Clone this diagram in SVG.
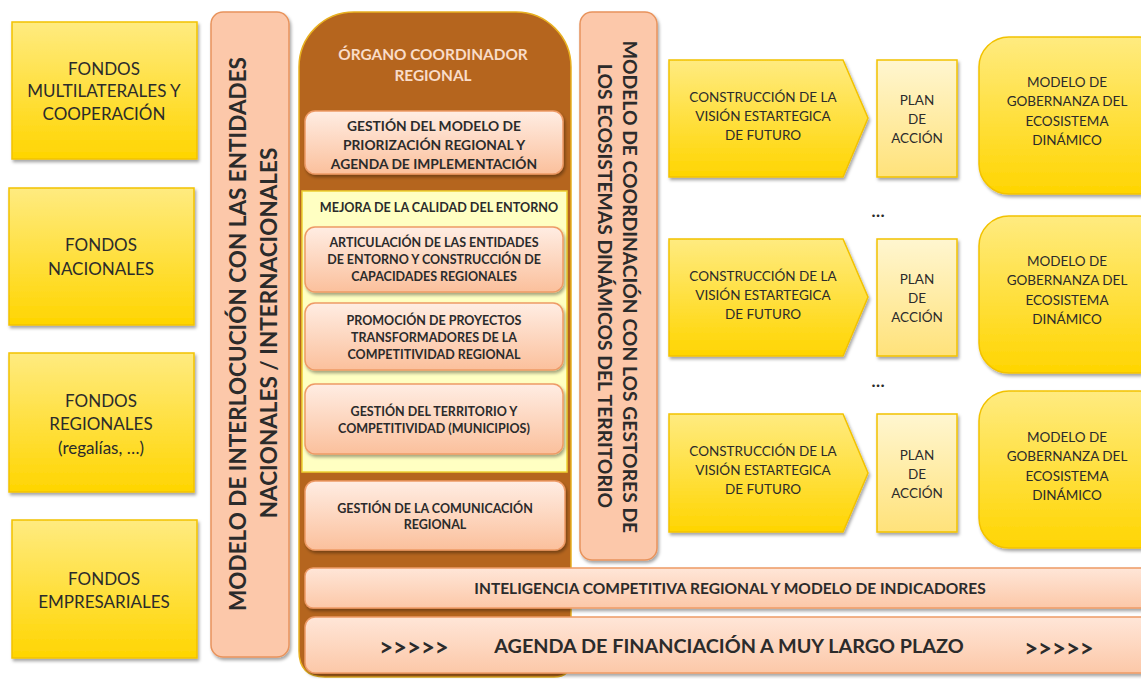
<svg xmlns="http://www.w3.org/2000/svg" width="1141" height="679" viewBox="0 0 1141 679">
<defs>
<linearGradient id="gY" x1="0" y1="0" x2="0" y2="1"><stop offset="0" stop-color="#FFEB80"/><stop offset="1" stop-color="#FFD500"/></linearGradient>
<linearGradient id="gYL" x1="0" y1="0" x2="0" y2="1"><stop offset="0" stop-color="#FFF6D0"/><stop offset="1" stop-color="#FFE27A"/></linearGradient>
<linearGradient id="gP" x1="0" y1="0" x2="0" y2="1"><stop offset="0" stop-color="#FFEDE3"/><stop offset="1" stop-color="#FBC09C"/></linearGradient>
<linearGradient id="gPH" x1="0" y1="0" x2="0" y2="1"><stop offset="0" stop-color="#FFE6D8"/><stop offset="1" stop-color="#FCC8A8"/></linearGradient>
<filter id="sh" x="-10%" y="-10%" width="130%" height="130%"><feDropShadow dx="1.5" dy="2.5" stdDeviation="1.8" flood-color="#000" flood-opacity="0.35"/></filter>
<style>
.t{font-family:Lato,"Liberation Sans",sans-serif;fill:#2b2b2b;text-anchor:middle;dominant-baseline:central}
.b{font-weight:bold}
.ybox{fill:url(#gY);stroke:#F2C200;stroke-width:1.5;filter:url(#sh)}
.pbox{fill:url(#gP);stroke:#EE9A66;stroke-width:1.5;filter:url(#sh)}
.vbar{fill:#FCC8AA;stroke:#E8935C;stroke-width:1.5;filter:url(#sh)}
.plan{fill:url(#gYL);stroke:#F2C200;stroke-width:1.5;filter:url(#sh)}
</style>
</defs>
<rect width="1141" height="679" fill="#fff"/>

<g id="fondos-multilaterales"><rect class="ybox" x="12" y="22" width="185" height="137"/>
<text class="t" font-size="17"><tspan x="104" y="68">FONDOS</tspan><tspan x="104" y="90">MULTILATERALES Y</tspan><tspan x="104" y="113">COOPERACIÓN</tspan></text></g>
<g id="fondos-nacionales"><rect class="ybox" x="9" y="188" width="185" height="137"/>
<text class="t" font-size="17"><tspan x="101" y="244">FONDOS</tspan><tspan x="101" y="268">NACIONALES</tspan></text></g>
<g id="fondos-regionales"><rect class="ybox" x="9" y="353" width="185" height="139"/>
<text class="t" font-size="17"><tspan x="101" y="400">FONDOS</tspan><tspan x="101" y="423">REGIONALES</tspan><tspan x="101" y="447">(regalías, …)</tspan></text></g>
<g id="fondos-empresariales"><rect class="ybox" x="12" y="520" width="185" height="138"/>
<text class="t" font-size="17"><tspan x="104" y="578">FONDOS</tspan><tspan x="104" y="601">EMPRESARIALES</tspan></text></g>

<g id="modelo-interlocucion"><rect class="vbar" x="211" y="12" width="78" height="645" rx="12"/>
<text class="t b" font-size="22.5" transform="translate(237,334) rotate(-90)" x="0" y="0">MODELO DE INTERLOCUCIÓN CON LAS ENTIDADES</text>
<text class="t b" font-size="22.5" transform="translate(268,333) rotate(-90)" x="0" y="0">NACIONALES / INTERNACIONALES</text></g>

<g id="organo-coordinador">
<path d="M299,67 A55,55 0 0 1 354,12 L516,12 A55,55 0 0 1 571,67 L571,660 Q571,677 554,677 L325,677 Q299,677 299,651 Z" fill="#B5651E" stroke="#E8B020" stroke-width="1.5"/>
<text class="t b" font-size="15.4" style="fill:#F9DCC8"><tspan x="433" y="54">ÓRGANO COORDINADOR</tspan><tspan x="433" y="75">REGIONAL</tspan></text>
</g>

<g id="gestion-modelo"><rect class="pbox" x="305" y="111" width="258" height="63" rx="10"/>
<text class="t b" font-size="13.8"><tspan x="434" y="125">GESTIÓN DEL MODELO DE</tspan><tspan x="434" y="144">PRIORIZACIÓN REGIONAL Y</tspan><tspan x="434" y="163">AGENDA DE IMPLEMENTACIÓN</tspan></text></g>

<g id="mejora-entorno"><rect x="302" y="191" width="265" height="281" fill="#FFFFC2" stroke="#EED030" stroke-width="1.5"/>
<text class="t b" font-size="12.6" x="439" y="207">MEJORA DE LA CALIDAD DEL ENTORNO</text></g>

<g id="articulacion"><rect class="pbox" x="305" y="227" width="258" height="65" rx="10"/>
<text class="t b" font-size="12.5"><tspan x="434" y="242">ARTICULACIÓN DE LAS ENTIDADES</tspan><tspan x="434" y="259">DE ENTORNO Y CONSTRUCCIÓN DE</tspan><tspan x="434" y="276">CAPACIDADES REGIONALES</tspan></text></g>
<g id="promocion"><rect class="pbox" x="305" y="303" width="258" height="67" rx="10"/>
<text class="t b" font-size="12.5"><tspan x="434" y="320">PROMOCIÓN DE PROYECTOS</tspan><tspan x="434" y="337">TRANSFORMADORES DE LA</tspan><tspan x="434" y="354">COMPETITIVIDAD REGIONAL</tspan></text></g>
<g id="gestion-territorio"><rect class="pbox" x="305" y="384" width="258" height="70" rx="10"/>
<text class="t b" font-size="12.5"><tspan x="434" y="411">GESTIÓN DEL TERRITORIO Y</tspan><tspan x="434" y="428">COMPETITIVIDAD (MUNICIPIOS)</tspan></text></g>
<g id="gestion-comunicacion"><rect class="pbox" x="305" y="481" width="260" height="69" rx="10"/>
<text class="t b" font-size="12.5"><tspan x="435" y="508">GESTIÓN DE LA COMUNICACIÓN</tspan><tspan x="435" y="524">REGIONAL</tspan></text></g>

<g id="modelo-coordinacion"><rect class="vbar" x="580" y="12" width="77" height="548" rx="12"/>
<text class="t b" font-size="19.3" transform="translate(630,287) rotate(90)" x="0" y="0">MODELO DE COORDINACIÓN CON LOS GESTORES DE</text>
<text class="t b" font-size="19.3" transform="translate(605,286) rotate(90)" x="0" y="0">LOS ECOSISTEMAS DINÁMICOS DEL TERRITORIO</text></g>

<g id="inteligencia"><rect class="pbox" x="305" y="568" width="850" height="40" rx="8" style="fill:url(#gPH)"/>
<text class="t b" font-size="15.5" x="730" y="588">INTELIGENCIA COMPETITIVA REGIONAL Y MODELO DE INDICADORES</text></g>
<g id="agenda"><rect class="pbox" x="305" y="617" width="850" height="56" rx="10" style="fill:url(#gPH)"/>
<text class="t b" font-size="24" x="414" y="646">&gt;&gt;&gt;&gt;&gt;</text>
<text class="t b" font-size="19.8" x="729" y="645">AGENDA DE FINANCIACIÓN A MUY LARGO PLAZO</text>
<text class="t b" font-size="24" x="1059" y="647">&gt;&gt;&gt;&gt;&gt;</text></g>

<g id="vision-1"><path class="ybox" d="M669,60 L843,60 L868,118 L843,177 L669,177 Z"/>
<text class="t" font-size="13.5"><tspan x="763" y="97">CONSTRUCCIÓN DE LA</tspan><tspan x="763" y="116">VISIÓN ESTARTEGICA</tspan><tspan x="763" y="135">DE FUTURO</tspan></text></g>
<g id="plan-1"><rect class="plan" x="877" y="60" width="80" height="117"/>
<text class="t" font-size="13.5"><tspan x="917" y="100">PLAN</tspan><tspan x="917" y="119">DE</tspan><tspan x="917" y="138">ACCIÓN</tspan></text></g>
<g id="gobernanza-1"><rect class="ybox" x="979" y="37" width="190" height="157" rx="30"/>
<text class="t" font-size="13.5"><tspan x="1067" y="82">MODELO DE</tspan><tspan x="1067" y="101">GOBERNANZA DEL</tspan><tspan x="1067" y="121">ECOSISTEMA</tspan><tspan x="1067" y="140">DINÁMICO</tspan></text></g>

<text id="dots-1" class="t b" font-size="17" x="878" y="210">…</text>

<g id="vision-2"><path class="ybox" d="M669,239 L843,239 L868,297 L843,356 L669,356 Z"/>
<text class="t" font-size="13.5"><tspan x="763" y="276">CONSTRUCCIÓN DE LA</tspan><tspan x="763" y="295">VISIÓN ESTARTEGICA</tspan><tspan x="763" y="314">DE FUTURO</tspan></text></g>
<g id="plan-2"><rect class="plan" x="877" y="239" width="80" height="117"/>
<text class="t" font-size="13.5"><tspan x="917" y="279">PLAN</tspan><tspan x="917" y="298">DE</tspan><tspan x="917" y="317">ACCIÓN</tspan></text></g>
<g id="gobernanza-2"><rect class="ybox" x="979" y="216" width="190" height="157" rx="30"/>
<text class="t" font-size="13.5"><tspan x="1067" y="261">MODELO DE</tspan><tspan x="1067" y="280">GOBERNANZA DEL</tspan><tspan x="1067" y="300">ECOSISTEMA</tspan><tspan x="1067" y="319">DINÁMICO</tspan></text></g>

<text id="dots-2" class="t b" font-size="17" x="878" y="380">…</text>

<g id="vision-3"><path class="ybox" d="M669,414 L843,414 L868,473 L843,532 L669,532 Z"/>
<text class="t" font-size="13.5"><tspan x="763" y="451">CONSTRUCCIÓN DE LA</tspan><tspan x="763" y="470">VISIÓN ESTARTEGICA</tspan><tspan x="763" y="489">DE FUTURO</tspan></text></g>
<g id="plan-3"><rect class="plan" x="877" y="414" width="80" height="118"/>
<text class="t" font-size="13.5"><tspan x="917" y="455">PLAN</tspan><tspan x="917" y="474">DE</tspan><tspan x="917" y="493">ACCIÓN</tspan></text></g>
<g id="gobernanza-3"><rect class="ybox" x="979" y="391" width="190" height="157" rx="30"/>
<text class="t" font-size="13.5"><tspan x="1067" y="437">MODELO DE</tspan><tspan x="1067" y="456">GOBERNANZA DEL</tspan><tspan x="1067" y="476">ECOSISTEMA</tspan><tspan x="1067" y="495">DINÁMICO</tspan></text></g>

<g id="connectors"></g>
</svg>
